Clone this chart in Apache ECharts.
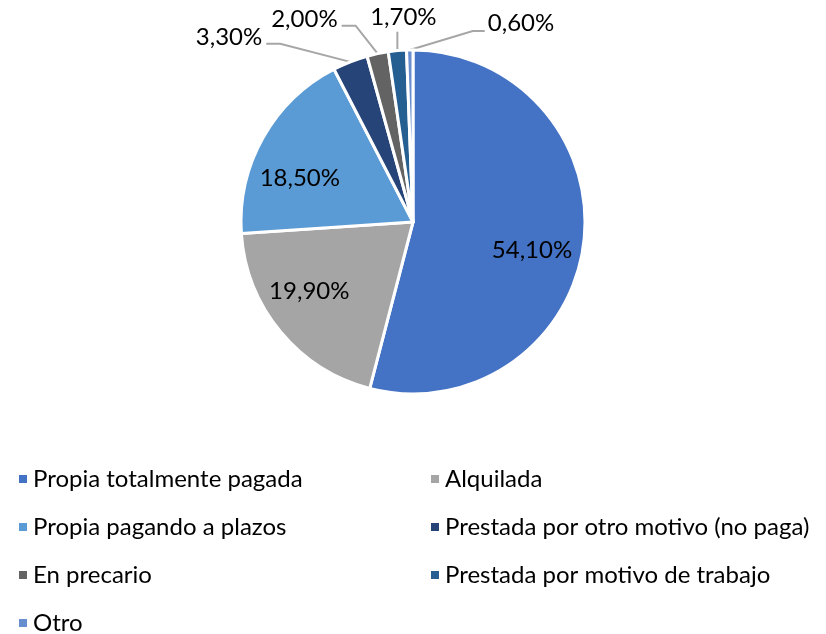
<!DOCTYPE html>
<html>
<head>
<meta charset="utf-8">
<script src="https://cdn.jsdelivr.net/npm/echarts@6/dist/echarts.min.js"></script>
<style>
html, body { margin: 0; padding: 0; background: #fff; }
#main { width: 826px; height: 634px; }
</style>
</head>
<body>
<div id="main"></div>
<script>
var categories = ['Propia totalmente pagada', 'Alquilada', 'Propia pagando a plazos',
  'Prestada por otro motivo (no paga)', 'En precario', 'Prestada por motivo de trabajo', 'Otro'];
var values = [54.1, 19.9, 18.5, 3.3, 2.0, 1.7, 0.6];
var colors = ['#4472C4', '#A5A5A5', '#5B9BD5', '#264478', '#636363', '#255E91', '#698ED0'];
// which slices get their label inside the pie
var insideLabel = [true, true, true, false, false, false, false];

var font = 'Lato, "Open Sans", sans-serif';

function fmt(v) {
  return v.toFixed(2).replace('.', ',') + '%';
}

// nudges for the inside labels
var insideShift = [[-3, 13], [-9, -9], [-6, 17]];
// outside labels: [label dx, label dy, align, bend dx, bend dy] relative to slice edge
var outsideShift = {
  3: [-88, -25, 'right', -70, -18],
  4: [-40, -34, 'right', -22, -28],
  5: [6, -33, 'center', 0, -19],
  6: [78, -27, 'left', 63, -19]
};

var pieData = [];
var overlayData = [];
for (var i = 0; i < categories.length; i++) {
  pieData.push({
    name: categories[i], value: values[i],
    itemStyle: { color: colors[i] },
    label: { show: !insideLabel[i] },
    labelLine: { show: !insideLabel[i] }
  });
  overlayData.push({
    name: categories[i], value: values[i],
    label: { show: insideLabel[i] }
  });
}

var chart = echarts.init(document.getElementById('main'));

var legendText = { fontFamily: font, fontSize: 24, lineHeight: 28, color: '#000' };

var option = {
  animation: false,
  legend: [{
    orient: 'vertical',
    left: 12, top: 460, height: 200,
    itemWidth: 10, itemHeight: 10, itemGap: 20,
    icon: 'rect',
    data: [categories[0], categories[2], categories[4], categories[6]],
    textStyle: legendText
  }, {
    orient: 'vertical',
    left: 424, top: 460, height: 200,
    itemWidth: 10, itemHeight: 10, itemGap: 20,
    icon: 'rect',
    data: [categories[1], categories[3], categories[5]],
    textStyle: legendText
  }],
  series: [{
    type: 'pie',
    center: [413, 222],
    radius: [0, 172],
    startAngle: 90,
    clockwise: true,
    avoidLabelOverlap: false,
    itemStyle: { borderColor: '#fff', borderWidth: 3 },
    label: {
      position: 'outside',
      fontFamily: font, fontSize: 24, color: '#000',
      formatter: function (p) { return fmt(p.value); }
    },
    labelLine: { length: 15, length2: 10, lineStyle: { color: '#A6A6A6', width: 2 } },
    labelLayout: function (p) {
      var s = outsideShift[p.dataIndex];
      if (!s || !p.labelLinePoints) return {};
      var e = p.labelLinePoints[0];
      var lx = e[0] + s[0], ly = e[1] + s[1];
      var bend = [e[0] + s[3], e[1] + s[4]];
      var end;
      if (s[2] === 'right') end = [lx + 4, bend[1]];
      else if (s[2] === 'left') end = [lx - 3, bend[1]];
      else end = bend;
      return {
        x: lx, y: ly, align: s[2], verticalAlign: 'middle',
        labelLinePoints: [e, bend, end]
      };
    },
    emphasis: { disabled: true },
    data: pieData
  }, {
    type: 'pie',
    center: [413, 222],
    radius: [68, 172],
    startAngle: 90,
    clockwise: true,
    silent: true,
    avoidLabelOverlap: false,
    itemStyle: { color: 'transparent', borderWidth: 0 },
    label: {
      position: 'inside',
      fontFamily: font, fontSize: 24, color: '#000',
      formatter: function (p) { return fmt(p.value); }
    },
    labelLine: { show: false },
    labelLayout: function (p) {
      var s = insideShift[p.dataIndex];
      return s ? { dx: s[0], dy: s[1] } : {};
    },
    emphasis: { disabled: true },
    data: overlayData
  }]
};

chart.setOption(option);
</script>
</body>
</html>
